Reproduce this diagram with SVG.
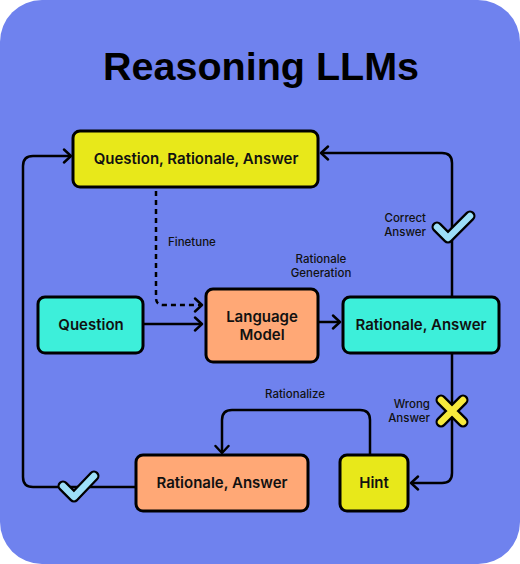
<svg xmlns="http://www.w3.org/2000/svg" width="520" height="564" viewBox="0 0 520 564">
<defs>
<marker id="arr" markerUnits="userSpaceOnUse" markerWidth="14" markerHeight="16" refX="9" refY="8" orient="auto">
<path d="M2,1.5 L9,8 L2,14.5" fill="none" stroke="#000" stroke-width="2.4" stroke-linecap="round" stroke-linejoin="round"/>
</marker>
<style>
.node rect{stroke:#000;stroke-width:3}
.yellow{fill:#E8E81A}.cyan{fill:#3DEFDA}.salmon{fill:#FFA876}
.lbl{font-family:Inter,"Noto Sans",sans-serif;font-weight:600;font-size:15px;fill:#111;text-anchor:middle}
.sm{font-family:Inter,"Noto Sans",sans-serif;font-weight:500;font-size:11.5px;fill:#111}
.con path{fill:none;stroke:#000;stroke-width:2.5}
</style>
</defs>
<rect x="0" y="0" width="520" height="564" rx="42" fill="#6F82EE"/>
<text x="261" y="80" font-family="Liberation Sans,Arial,sans-serif" font-weight="bold" font-size="39.5" text-anchor="middle" fill="#000">Reasoning LLMs</text>

<g class="con" id="connectors">
<path d="M452,297 V163 Q452,153 442,153 H321" marker-end="url(#arr)"/>
<path d="M156,191 V298 Q156,305 163,305 H202" stroke-dasharray="5,4" marker-end="url(#arr)"/>
<path d="M143,324 H202" marker-end="url(#arr)"/>
<path d="M318,322 H340" marker-end="url(#arr)"/>
<path d="M452,353 V473 Q452,483 442,483 H411" marker-end="url(#arr)"/>
<path d="M370,455 V420 Q370,410 360,410 H232 Q222,410 222,420 V453" marker-end="url(#arr)"/>
<path d="M136,487 H33 Q23,487 23,477 V166 Q23,156 33,156 H71" marker-end="url(#arr)"/>
</g>

<g id="check1">
<path d="M437,227 L448,238 L470,216" fill="none" stroke="#000" stroke-width="11" stroke-linecap="round" stroke-linejoin="round"/>
<path d="M437,227 L448,238 L470,216" fill="none" stroke="#9DDFF8" stroke-width="6.5" stroke-linecap="round" stroke-linejoin="round"/>
</g>
<g id="check2">
<path d="M63,486 L74,497 L94,476" fill="none" stroke="#000" stroke-width="11" stroke-linecap="round" stroke-linejoin="round"/>
<path d="M63,486 L74,497 L94,476" fill="none" stroke="#9DDFF8" stroke-width="6.5" stroke-linecap="round" stroke-linejoin="round"/>
</g>
<g id="cross">
<path d="M441,400 L463,422 M463,400 L441,422" fill="none" stroke="#000" stroke-width="11" stroke-linecap="round"/>
<path d="M441,400 L463,422 M463,400 L441,422" fill="none" stroke="#F7EA3C" stroke-width="6.5" stroke-linecap="round"/>
</g>

<g class="node" id="qra"><rect class="yellow" x="73" y="131" width="245" height="56" rx="7"/><text class="lbl" x="196" y="164">Question, Rationale, Answer</text></g>
<g class="node" id="question"><rect class="cyan" x="38" y="297" width="105" height="56" rx="7"/><text class="lbl" x="91" y="330">Question</text></g>
<g class="node" id="lm"><rect class="salmon" x="206" y="289" width="112" height="73" rx="7"/><text class="lbl" x="262" y="322">Language</text><text class="lbl" x="262" y="340">Model</text></g>
<g class="node" id="ra1"><rect class="cyan" x="343" y="297" width="156" height="56" rx="7"/><text class="lbl" x="421" y="330">Rationale, Answer</text></g>
<g class="node" id="ra2"><rect class="salmon" x="136" y="455" width="172" height="56" rx="7"/><text class="lbl" x="222" y="488">Rationale, Answer</text></g>
<g class="node" id="hint"><rect class="yellow" x="340" y="455" width="68" height="56" rx="7"/><text class="lbl" x="374" y="488">Hint</text></g>

<g id="labels">
<text class="sm" x="168" y="246">Finetune</text>
<text class="sm" x="321" y="263" text-anchor="middle">Rationale</text>
<text class="sm" x="321" y="277" text-anchor="middle">Generation</text>
<text class="sm" x="426" y="222" text-anchor="end">Correct</text>
<text class="sm" x="426" y="236" text-anchor="end">Answer</text>
<text class="sm" x="430" y="408" text-anchor="end">Wrong</text>
<text class="sm" x="430" y="422" text-anchor="end">Answer</text>
<text class="sm" x="295" y="398" text-anchor="middle">Rationalize</text>
</g>
</svg>
